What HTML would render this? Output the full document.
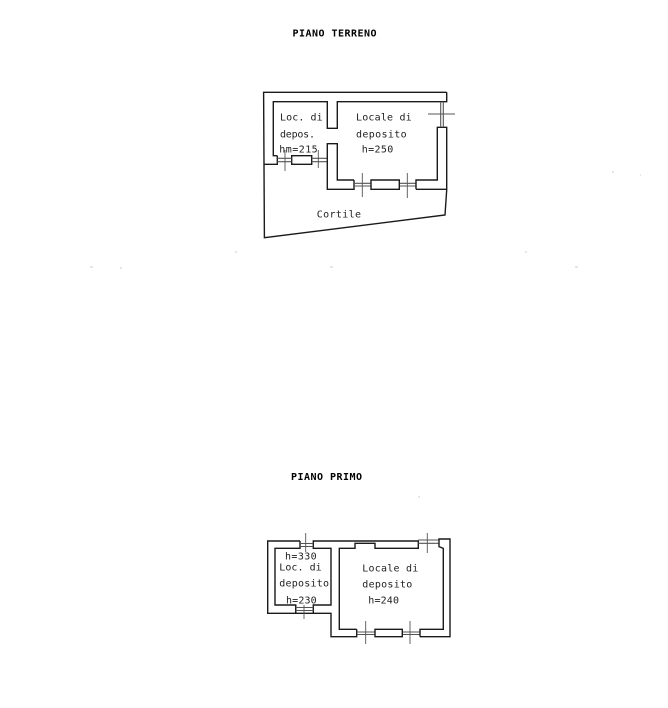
<!DOCTYPE html>
<html>
<head>
<meta charset="utf-8">
<style>
html,body{margin:0;padding:0;background:#fff;width:668px;height:708px;overflow:hidden}
svg{display:block}
text{font-family:"DejaVu Sans Mono","Liberation Mono",monospace;font-size:10px;fill:#222}
.t{font-weight:bold;font-size:10px;fill:#000}
path,line{fill:none;stroke:#1a1a1a;stroke-width:1.4}
.w{stroke:#555;stroke-width:1.1}
.k{stroke:#555;stroke-width:.9}
.s{stroke:#ccc;stroke-width:1}
</style>
</head>
<body>
<svg width="668" height="708" viewBox="0 0 668 708" xmlns="http://www.w3.org/2000/svg">
<!-- PIANO TERRENO -->
<text class="t" x="292.5" y="36.5" textLength="84" lengthAdjust="spacing">PIANO TERRENO</text>
<path d="M446.7 92.3H263.6L264.4 237.7L445 215L446.7 190"/>
<path d="M446.7 92.3V101.7H337.3V128.3H327.3V101.7H273.3V155.7H277.3"/>
<path d="M263.6 164.3H277.3V155.7"/>
<path d="M291.7 155.7H311.7V164.3H291.7Z"/>
<path class="w" d="M277.3 158.3H291.7M277.3 161.7H291.7M311.7 158.3H327.3M311.7 161.7H327.3"/>
<path d="M327.3 162V143.7H337.3V180H354M327.3 162V189.3H354V180"/>
<path class="w" d="M354 183.3H371M354 186H371M399.3 183.3H416M399.3 186H416"/>
<path d="M371 180H399.3V189.3H371Z"/>
<path d="M416 189.3V180H437.3V127.3H446.7V190M416 189.3H446.7"/>
<path class="w" d="M440.7 101.7V127.3M443.3 101.7V127.3"/>
<path class="k" d="M428 114H455M285 150V171M318.3 150V168M362.3 173V197M407.3 173V198"/>
<text x="280" y="120.7" textLength="42.7">Loc. di</text>
<text x="280" y="137.3" textLength="35">depos.</text>
<text x="279.3" y="152.3" textLength="38.4">hm=215</text>
<text x="356" y="120.7" textLength="55.7">Locale di</text>
<text x="356" y="137.3" textLength="50.7">deposito</text>
<text x="361.7" y="152.3" textLength="31.6">h=250</text>
<text x="316.7" y="217.3" textLength="44.3">Cortile</text>
<!-- PIANO PRIMO -->
<text class="t" x="291" y="480" textLength="71" lengthAdjust="spacing">PIANO PRIMO</text>
<path d="M300 541H267.7V613.3H295.7V605H275V548.3H300V541"/>
<path d="M295.7 605V613.3H313.3V605H331V548.3H313.3V541H418.3V548.3H375V543.3H355V548.3H339.3V629.3H356.7"/>
<path d="M313.3 613.3H331V636.7H356.7V629.3"/>
<path class="w" d="M295.7 607.5H313.3M295.7 610.5H313.3M300 543.5H313.3M300 546.5H313.3M356.7 632H375M356.7 634.5H375M402.3 632H420M402.3 634.5H420M418.3 540H439M418.3 543.3H439"/>
<path d="M375 629.3H402.3V636.7H375Z"/>
<path d="M420 636.7V629.3H443.3V548.3L439 546.7V539H450V636.7H420"/>
<path class="k" d="M305.7 533V552M427.3 533V553M304 605V619M365.7 621V644M410 621V644"/>
<text x="285" y="559.3" textLength="31.7">h=330</text>
<text x="279.3" y="570.7" textLength="42.4">Loc. di</text>
<text x="279.3" y="586.7" textLength="49.7">deposito</text>
<text x="286" y="603.3" textLength="30.7">h=230</text>
<text x="362.3" y="571.7" textLength="56">Locale di</text>
<text x="362.3" y="587.7" textLength="50">deposito</text>
<text x="368.3" y="603.3" textLength="30.7">h=240</text>
<!-- specks -->
<path class="s" d="M90 267h3M235 252h2M330 267h3M525 252h2M612 172h2M575 267h3M418 497h2M640 175h1M120 268h2"/>
</svg>
</body>
</html>
